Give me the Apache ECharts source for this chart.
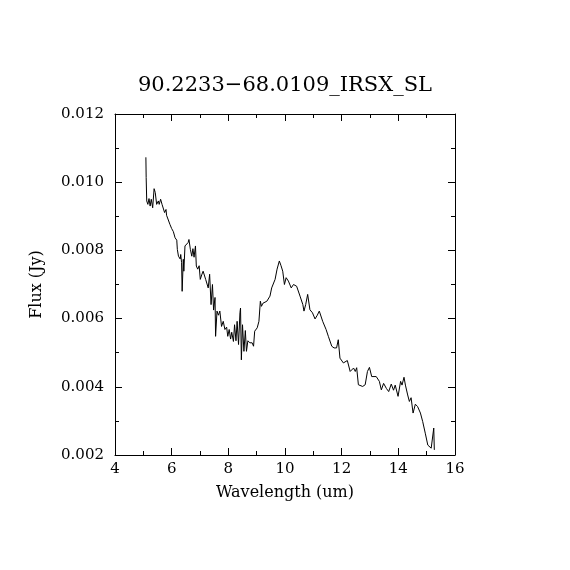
<!DOCTYPE html>
<html>
<head>
<meta charset="utf-8">
<script src="https://cdn.jsdelivr.net/npm/echarts@6/dist/echarts.min.js"></script>
<style>html,body{margin:0;padding:0;background:#fff}#c{width:570px;height:570px}</style>
</head>
<body>
<div id="c"></div>
<script>
var titleText = '90.2233\u221268.0109_IRSX_SL';
var xName = 'Wavelength (um)';
var yName = 'Flux (Jy)';
var wavelength = [5.09,5.10,5.12,5.16,5.20,5.24,5.28,5.33,5.38,5.42,5.47,5.53,5.56,5.61,5.66,5.70,5.75,5.80,5.82,5.88,5.94,6.00,6.06,6.12,6.18,6.20,6.24,6.30,6.32,6.35,6.37,6.41,6.43,6.47,6.52,6.58,6.61,6.66,6.71,6.75,6.79,6.84,6.87,6.92,6.97,7.01,7.06,7.11,7.17,7.20,7.25,7.29,7.34,7.39,7.44,7.48,7.53,7.55,7.60,7.65,7.70,7.76,7.82,7.88,7.94,7.98,8.03,8.08,8.12,8.18,8.22,8.27,8.31,8.36,8.41,8.43,8.46,8.50,8.55,8.60,8.64,8.69,8.76,8.84,8.89,8.93,9.02,9.08,9.13,9.17,9.22,9.27,9.36,9.47,9.53,9.59,9.65,9.72,9.80,9.86,9.92,9.98,10.04,10.12,10.22,10.30,10.41,10.53,10.63,10.67,10.73,10.80,10.88,10.97,11.06,11.14,11.21,11.33,11.45,11.53,11.65,11.73,11.82,11.88,11.94,12.06,12.20,12.30,12.42,12.48,12.53,12.59,12.74,12.83,12.91,12.98,13.06,13.22,13.33,13.40,13.48,13.58,13.66,13.75,13.83,13.89,13.99,14.08,14.13,14.20,14.25,14.33,14.39,14.45,14.52,14.60,14.68,14.78,14.86,14.95,15.04,15.16,15.25,15.27];
var flux = [0.01073,0.01014,0.00945,0.00935,0.00952,0.00930,0.00950,0.00925,0.00981,0.00970,0.00935,0.00945,0.00935,0.00950,0.00935,0.00930,0.00911,0.00920,0.00903,0.00900,0.00876,0.00864,0.00855,0.00837,0.00830,0.00803,0.00783,0.00775,0.00788,0.00764,0.00680,0.00774,0.00739,0.00813,0.00810,0.00823,0.00832,0.00803,0.00783,0.00805,0.00780,0.00813,0.00754,0.00745,0.00755,0.00715,0.00728,0.00739,0.00735,0.00715,0.00712,0.00690,0.00730,0.00641,0.00700,0.00625,0.00662,0.00548,0.00622,0.00610,0.00622,0.00577,0.00592,0.00568,0.00575,0.00548,0.00568,0.00540,0.00560,0.00533,0.00582,0.00535,0.00592,0.00524,0.00617,0.00631,0.00479,0.00582,0.00504,0.00565,0.00504,0.00535,0.00529,0.00529,0.00519,0.00563,0.00573,0.00592,0.00651,0.00636,0.00645,0.00646,0.00651,0.00666,0.00690,0.00695,0.00715,0.00745,0.00769,0.00755,0.00739,0.00700,0.00720,0.00710,0.00690,0.00700,0.00695,0.00666,0.00641,0.00622,0.00641,0.00671,0.00626,0.00617,0.00599,0.00610,0.00622,0.00592,0.00568,0.00548,0.00519,0.00514,0.00514,0.00538,0.00484,0.00470,0.00477,0.00445,0.00455,0.00445,0.00456,0.00406,0.00401,0.00406,0.00445,0.00457,0.00430,0.00430,0.00416,0.00391,0.00410,0.00395,0.00386,0.00408,0.00390,0.00405,0.00372,0.00416,0.00405,0.00428,0.00405,0.00376,0.00357,0.00368,0.00323,0.00349,0.00342,0.00323,0.00298,0.00264,0.00229,0.00220,0.00279,0.00215];
var xMin = 4, xMax = 16, xStep = 2;
var yMin = 0.002, yMax = 0.012, yStep = 0.002;

var pts = wavelength.map(function(w, i){ return [w, flux[i]]; });
var font = 'DejaVu Serif';
var lineStyle = {color:'#000', width:1};
var tickMajor = {show:true, inside:true, length:7, lineStyle:lineStyle};
var tickMinor = {show:true, splitNumber:2, length:4, lineStyle:lineStyle};

var chart = echarts.init(document.getElementById('c'), null, {renderer:'canvas'});
chart.setOption({
  backgroundColor:'#fff',
  animation:false,
  title:{text:titleText, left:'center', top:70, textStyle:{fontFamily:font, fontSize:21, fontWeight:'normal', color:'#000'}},
  grid:{left:115, right:115, top:114, bottom:115, containLabel:false},
  xAxis:[
    {type:'value', min:xMin, max:xMax, interval:xStep, position:'bottom',
     name:xName, nameLocation:'middle', nameGap:30,
     nameTextStyle:{fontFamily:font, fontSize:16, color:'#000'},
     axisLine:{show:true, lineStyle:lineStyle}, axisTick:tickMajor, minorTick:tickMinor,
     axisLabel:{fontFamily:font, fontSize:15, color:'#000', margin:7},
     splitLine:{show:false}},
    {type:'value', min:xMin, max:xMax, interval:xStep, position:'top',
     axisLine:{show:true, lineStyle:lineStyle}, axisTick:tickMajor, minorTick:tickMinor,
     axisLabel:{show:false}, splitLine:{show:false}}
  ],
  yAxis:[
    {type:'value', min:yMin, max:yMax, interval:yStep, position:'left',
     name:yName, nameLocation:'middle', nameGap:70, nameRotate:90,
     nameTextStyle:{fontFamily:font, fontSize:16, color:'#000'},
     axisLine:{show:true, lineStyle:lineStyle}, axisTick:tickMajor, minorTick:tickMinor,
     axisLabel:{fontFamily:font, fontSize:15, color:'#000', margin:11,
       formatter:function(v){ return v.toFixed(3); }},
     splitLine:{show:false}},
    {type:'value', min:yMin, max:yMax, interval:yStep, position:'right',
     axisLine:{show:true, lineStyle:lineStyle}, axisTick:tickMajor, minorTick:tickMinor,
     axisLabel:{show:false}, splitLine:{show:false}}
  ],
  series:[{type:'line', data:pts, xAxisIndex:0, yAxisIndex:0, showSymbol:false, symbol:'none',
    lineStyle:{color:'#000', width:1}, clip:true}]
});
</script>
</body>
</html>
